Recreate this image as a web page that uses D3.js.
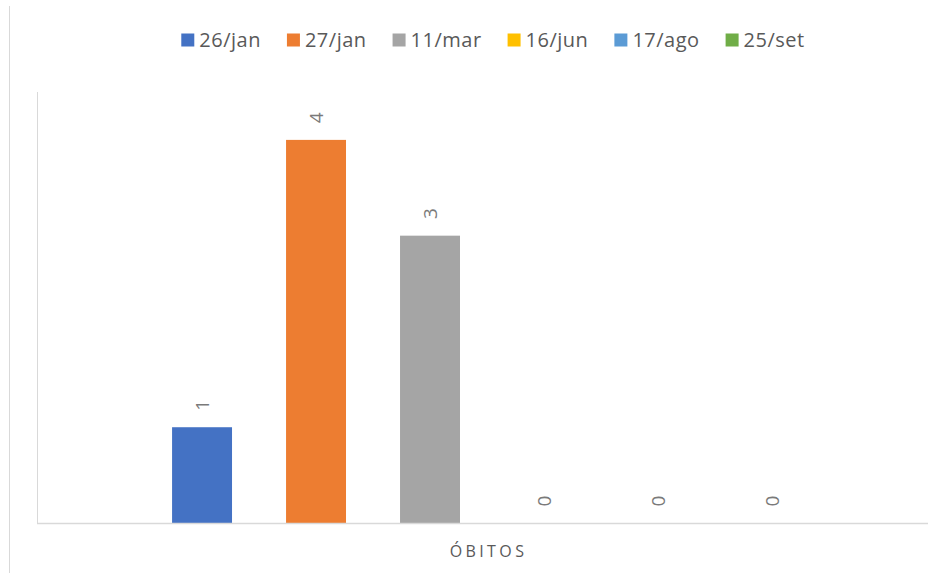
<!DOCTYPE html>
<html><head><meta charset="utf-8">
<script src="https://cdn.jsdelivr.net/npm/d3@7"></script>
<style>body{margin:0;background:#fff}svg{display:block}</style>
</head><body>
<svg id="c" width="928" height="573"></svg>
<script>
const categories = ["ÓBITOS"];
const seriesNames = ["26/jan","27/jan","11/mar","16/jun","17/ago","25/set"];
const seriesValues = [1,4,3,0,0,0];
const seriesColors = ["#4472C4","#ED7D31","#A5A5A5","#FFC000","#5B9BD5","#70AD47"];

const svg = d3.select("#c");
const W = 928, H = 573;
const plot = {left:37, right:937, top:92, bottom:523};
const font = "'Open Sans', sans-serif";

// chart border (left edge visible)
svg.append("line").attr("x1",9.5).attr("x2",9.5).attr("y1",6).attr("y2",H)
  .attr("stroke","#D9D9D9").attr("stroke-width",1);

const y = d3.scaleLinear().domain([0,4.5]).range([plot.bottom, plot.top]);
const x0 = d3.scaleBand().domain(categories).range([plot.left, plot.right]).paddingOuter(0.158).paddingInner(0);
const x1 = d3.scaleBand().domain(seriesNames).range([0, x0.bandwidth()]).paddingInner(0.474).paddingOuter(0.237);

// left axis line
svg.append("line").attr("x1",plot.left+0.5).attr("x2",plot.left+0.5)
  .attr("y1",plot.top).attr("y2",plot.bottom).attr("stroke","#D9D9D9");

const g = svg.append("g");
categories.forEach(cat => {
  const gx = x0(cat);
  seriesNames.forEach((s,i) => {
    const v = seriesValues[i];
    const bx = gx + x1(s);
    if (v > 0) {
      g.append("rect").attr("x",bx).attr("y",y(v)).attr("width",x1.bandwidth())
        .attr("height",y(0)-y(v)).attr("fill",seriesColors[i]);
    }
    const cx = bx + x1.bandwidth()/2, cy = y(v) - 22;
    g.append("text").attr("transform",`translate(${cx},${cy}) rotate(-90)`)
      .attr("text-anchor","middle").attr("dominant-baseline","central")
      .attr("font-family",font).attr("font-size",19).attr("fill","#7a7a7a")
      .text(v);
  });
});

// baseline (category axis)
svg.append("line").attr("x1",plot.left).attr("x2",W).attr("y1",plot.bottom+0.5).attr("y2",plot.bottom+0.5)
  .attr("stroke","#D9D9D9").attr("stroke-width",1.5);

// category label
const catG = svg.append("g");
categories.forEach(cat => {
  catG.append("text").attr("x", x0(cat)+x0.bandwidth()/2 + 1.5).attr("y",556.5)
    .attr("text-anchor","middle").attr("font-family",font).attr("font-size",16)
    .attr("letter-spacing",3.4).attr("fill","#595959").text(cat);
});

// legend
const lg = svg.append("g");
const items = seriesNames.map((s,i) => {
  const it = lg.append("g");
  it.append("rect").attr("width",13).attr("height",13).attr("fill",seriesColors[i]);
  const t = it.append("text").attr("x",18).attr("y",13.5).attr("font-family",font)
    .attr("font-size",20).attr("letter-spacing",0.5).attr("fill","#595959").text(s);
  return {it, w: 18 + t.node().getComputedTextLength()};
});
const gap = 26;
const total = d3.sum(items, d=>d.w) + gap*(items.length-1);
let lx = 493 - total/2;
items.forEach(d => { d.it.attr("transform",`translate(${lx},33.5)`); lx += d.w + gap; });
</script>
</body></html>
